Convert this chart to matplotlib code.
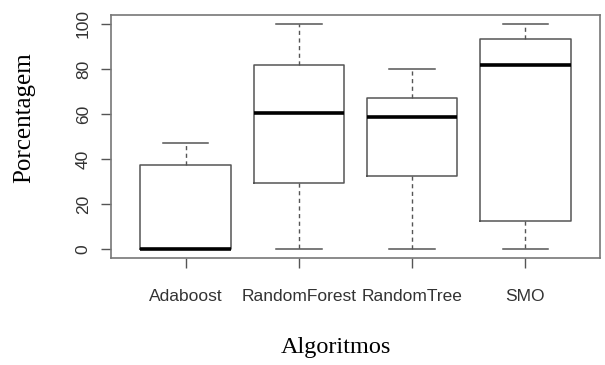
import matplotlib
matplotlib.use("Agg")
import matplotlib.pyplot as plt

# ---- data ----
algoritmos = ["Adaboost", "RandomForest", "RandomTree", "SMO"]
whisker_low = [0.0, 0.0, 0.0, 0.0]
q1 = [0.0, 29.2, 32.6, 12.5]
medians = [0.0, 60.4, 58.6, 81.6]
q3 = [37.2, 81.6, 67.0, 93.2]
whisker_high = [46.9, 100.0, 80.2, 100.0]
yticks = [0, 20, 40, 60, 80, 100]

GRAY = "#555555"

stats = []
for name, lo, a, m, b, hi in zip(algoritmos, whisker_low, q1, medians, q3, whisker_high):
    stats.append({"label": name, "whislo": lo, "q1": a, "med": m,
                  "q3": b, "whishi": hi, "fliers": []})

fig = plt.figure(figsize=(6.05, 3.65), dpi=100)
ax = fig.add_axes([111 / 605, 1 - 258 / 365, 489 / 605, 243 / 365])

ax.bxp(stats, positions=range(1, len(stats) + 1), widths=0.8,
       showfliers=False,
       boxprops=dict(color=GRAY, linewidth=1.1),
       medianprops=dict(color="black", linewidth=2.6, solid_capstyle="butt"),
       whiskerprops=dict(color=GRAY, linewidth=1.0, linestyle=(0, (3, 2.5))),
       capprops=dict(color=GRAY, linewidth=1.1),
       capwidths=0.4)

ax.set_xlim(0.34, 4.66)
ax.set_ylim(-4, 104)
ax.set_yticks(yticks)
ax.set_yticklabels([str(v) for v in yticks], rotation=90, va="center",
                   fontsize=12.5, color="#333333", family="Liberation Sans")
ax.set_xticks(range(1, len(algoritmos) + 1))
ax.set_xticklabels(algoritmos, fontsize=12.5, color="#333333",
                   family="Liberation Sans")
ax.tick_params(axis="both", direction="out", length=7.5, width=1.0, color=GRAY)
ax.tick_params(axis="y", pad=7)
ax.tick_params(axis="x", pad=15)

for sp in ax.spines.values():
    sp.set_color("#777777")
    sp.set_linewidth(1.2)

fig.text(24 / 605, 1 - 118 / 365, "Porcentagem", rotation=90, ha="center",
         va="center", fontsize=18, family="Liberation Serif")
fig.text(336 / 605, 1 - 348 / 365, "Algoritmos", ha="center", va="center",
         fontsize=17.5, family="Liberation Serif")

fig.savefig("out.png", dpi=100)
